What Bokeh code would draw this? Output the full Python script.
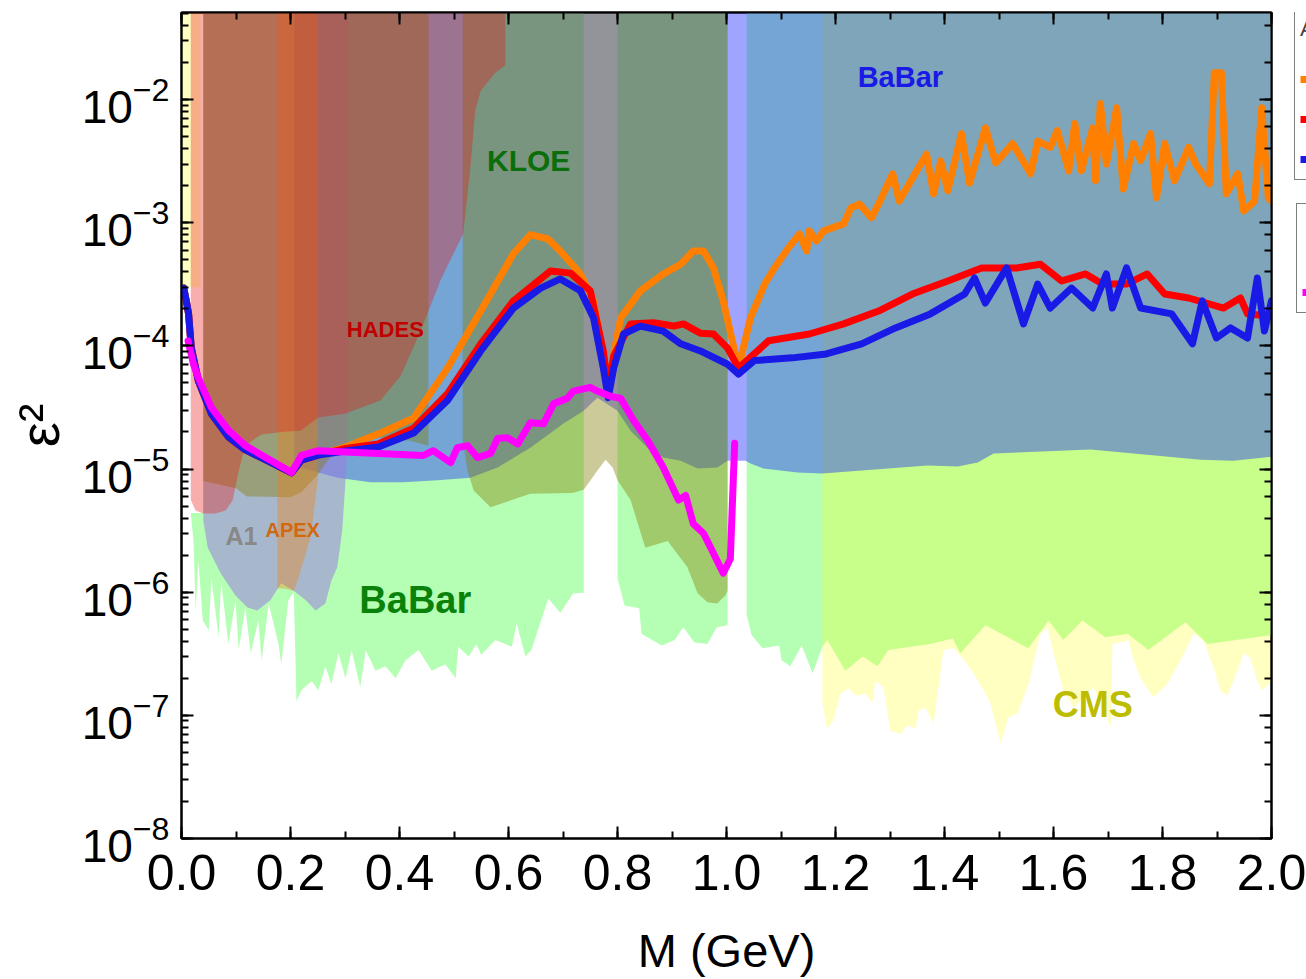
from bokeh.plotting import figure
from bokeh.layouts import row
from bokeh.models import (Range1d, LinearAxis, LogAxis, SingleIntervalTicker, LogTicker,
                          PrintfTickFormatter, Legend, LegendItem, CustomLabelingPolicy)
from bokeh.core.properties import value
from bokeh.embed import file_html
from bokeh.resources import INLINE

TOP = 0.06  # open upper side of exclusion regions (beyond the axis top)

# ---------------- exclusion regions (M in GeV, eps^2) ----------------
green1_x = [0.040, 0.040, 0.017, 0.022, 0.026, 0.031, 0.039, 0.050, 0.055, 0.068, 0.073, 0.086, 0.099, 0.105,
            0.117, 0.127, 0.141, 0.147, 0.160, 0.178, 0.183, 0.196, 0.206, 0.211, 0.220, 0.239, 0.251, 0.264,
            0.275, 0.288, 0.301, 0.312, 0.328, 0.338, 0.356, 0.374, 0.393, 0.411, 0.435, 0.459, 0.484, 0.503,
            0.508, 0.527, 0.541, 0.550, 0.576, 0.606, 0.615, 0.631, 0.642, 0.673, 0.695, 0.719, 0.738, 0.738]
green1_y = [TOP, 4.4e-6, 4.4e-6, 2.6e-6, 7.1e-7, 1.8e-6, 5.9e-7, 4.9e-7, 1.3e-6, 4.3e-7, 1.2e-6, 3.8e-7, 8.6e-7,
            3.4e-7, 7.5e-7, 3.2e-7, 5.9e-7, 2.8e-7, 8.1e-7, 3.8e-7, 2.6e-7, 8.6e-7, 1.0e-6, 1.3e-7, 1.6e-7,
            1.9e-7, 1.6e-7, 2.5e-7, 1.8e-7, 3.2e-7, 2.0e-7, 3.4e-7, 1.7e-7, 3.4e-7, 2.3e-7, 2.5e-7, 2.0e-7,
            2.8e-7, 3.4e-7, 2.3e-7, 2.6e-7, 2.0e-7, 3.6e-7, 3.0e-7, 3.8e-7, 3.1e-7, 4.1e-7, 3.6e-7, 5.6e-7,
            3.0e-7, 3.4e-7, 8.9e-7, 6.8e-7, 9.8e-7, 9.9e-7, TOP]
green2_x = [0.800, 0.813, 0.840, 0.844, 0.881, 0.905, 0.921, 0.941, 0.965, 0.982, 1.002]
green2_y = [1.3e-6, 7.8e-7, 7.4e-7, 4.6e-7, 3.7e-7, 4.1e-7, 5.2e-7, 3.9e-7, 3.8e-7, 5.2e-7, 5.4e-7]
green3_x = [1.037, 1.046, 1.066, 1.097, 1.101, 1.117, 1.138, 1.158, 1.176, 1.185, 1.218, 1.250, 1.277, 1.297,
            1.338, 1.374, 1.415, 1.429, 1.475, 1.554, 1.591, 1.618, 1.653, 1.695, 1.736, 1.774, 1.842, 1.883, 2.0]
green3_y = [6.5e-7, 4.5e-7, 3.5e-7, 3.7e-7, 2.8e-7, 2.5e-7, 3.7e-7, 2.2e-7, 3.6e-7, 4.1e-7, 2.3e-7, 3.0e-7,
            2.5e-7, 3.4e-7, 3.6e-7, 3.8e-7, 4.2e-7, 3.2e-7, 5.4e-7, 3.5e-7, 5.9e-7, 4.1e-7, 5.9e-7, 4.3e-7,
            4.6e-7, 3.4e-7, 5.7e-7, 3.8e-7, 4.5e-7]

cms_x = [1.176, 1.185, 1.196, 1.209, 1.224, 1.237, 1.255, 1.268, 1.273, 1.288, 1.301, 1.319, 1.332, 1.347,
         1.352, 1.365, 1.380, 1.398, 1.417, 1.442, 1.453, 1.472, 1.484, 1.503, 1.517, 1.534, 1.554, 1.576,
         1.589, 1.600, 1.618, 1.637, 1.673, 1.705, 1.708, 1.738, 1.747, 1.760, 1.783, 1.809, 1.833, 1.857,
         1.875, 1.894, 1.906, 1.919, 1.930, 1.949, 1.961, 1.974, 1.983, 2.0]
cms_y = [1.25e-7, 7.8e-8, 9.1e-8, 1.5e-7, 1.65e-7, 1.45e-7, 1.5e-7, 1.27e-7, 1.9e-7, 1.7e-7,
         7.5e-8, 7.1e-8, 8.3e-8, 7.8e-8, 1.09e-7, 1.16e-7, 8.6e-8, 3.4e-7, 3.5e-7, 2.6e-7,
         2.2e-7, 1.6e-7, 1.27e-7, 5.9e-8, 9.6e-8, 1.04e-7, 1.8e-7, 4.6e-7, 5.2e-7, 3.2e-7,
         1.6e-7, 1.16e-7, 1.7e-7, 8.0e-8, 3.8e-7, 4.05e-7, 2.8e-7, 2.0e-7, 1.4e-7, 1.8e-7,
         2.8e-7, 4.6e-7, 4.05e-7, 2.45e-7, 1.6e-7, 1.45e-7, 1.9e-7, 3.2e-7, 2.95e-7, 1.9e-7,
         1.6e-7, 1.9e-7]

babar_x = [0.207, 0.218, 0.286, 0.347, 0.407, 0.470, 0.530, 0.580, 0.640, 0.701, 0.738, 0.763, 0.800, 0.824,
           0.855, 0.884, 0.916, 0.947, 0.983, 1.002, 1.035, 1.044, 1.068, 1.130, 1.176, 1.369, 1.424, 1.461,
           1.490, 1.668, 1.747, 1.870, 1.930, 2.0]
babar_y = [1.03e-5, 1.03e-5, 8.5e-6, 7.8e-6, 7.8e-6, 8.1e-6, 8.5e-6, 1.03e-5, 1.49e-5, 2.34e-5, 2.98e-5, 3.8e-5,
           2.98e-5, 2.05e-5, 1.49e-5, 1.24e-5, 1.17e-5, 1.01e-5, 1.03e-5, 1.17e-5, 1.17e-5, 1.11e-5, 1.01e-5,
           9.4e-6, 9.2e-6, 1.07e-5, 1.05e-5, 1.13e-5, 1.34e-5, 1.44e-5, 1.34e-5, 1.19e-5, 1.17e-5, 1.26e-5]

kloe_x = [0.516, 0.525, 0.536, 0.567, 0.640, 0.717, 0.738, 0.763, 0.778, 0.791, 0.800, 0.824, 0.851, 0.892,
          0.928, 0.947, 0.965, 0.983, 0.998, 1.002]
kloe_y = [1.7e-5, 9.7e-6, 6.7e-6, 4.9e-6, 6.3e-6, 6.4e-6, 6.8e-6, 9.7e-6, 1.19e-5, 1.03e-5, 8.1e-6, 5.6e-6,
          2.3e-6, 2.6e-6, 1.6e-6, 9.8e-7, 8.3e-7, 8.1e-7, 9.4e-7, 1.03e-6]
kloe2_x = [0.040, 0.100, 0.120, 0.200, 0.220, 0.250, 0.270, 0.310, 0.365, 0.420, 0.453]
kloe2_y = [8.0e-6, 7.0e-6, 6.0e-6, 5.9e-6, 6.5e-6, 9.0e-6, 1.2e-5, 1.7e-5, 1.8e-5, 1.7e-5, 1.55e-5]

hades_x = [0.017, 0.017, 0.026, 0.040, 0.062, 0.081, 0.094, 0.105, 0.117, 0.145, 0.182, 0.218, 0.251, 0.301,
           0.365, 0.402, 0.439, 0.475, 0.517, 0.530, 0.539, 0.549, 0.576, 0.594, 0.594]
hades_y = [TOP, 5.6e-6, 4.6e-6, 4.35e-6, 4.35e-6, 4.6e-6, 5.6e-6, 9.7e-6, 1.55e-5, 1.9e-5, 2.0e-5, 2.05e-5,
           2.62e-5, 2.83e-5, 3.6e-5, 5.7e-5, 1.33e-4, 3.4e-4, 8.2e-4, 2.8e-3, 8.2e-3, 1.18e-2, 1.66e-2,
           1.89e-2, TOP]

a1_x = [0.040, 0.040, 0.305, 0.305, 0.301, 0.295, 0.286, 0.275, 0.264, 0.246, 0.228, 0.206, 0.183, 0.163,
        0.139, 0.121, 0.099, 0.072, 0.048]
a1_y = [3.8e-6, TOP, TOP, 1.7e-5, 8.1e-6, 3.2e-6, 1.6e-6, 1.24e-6, 8.1e-7, 7.1e-7, 8.6e-7, 1.03e-6, 1.18e-6,
        8.6e-7, 7.1e-7, 7.5e-7, 9.4e-7, 1.42e-6, 2.31e-6]

apex_x = [0.176, 0.176, 0.187, 0.206, 0.213, 0.237, 0.250, 0.250]
apex_y = [TOP, 1.07e-6, 1.07e-6, 1.03e-6, 1.24e-6, 2.8e-6, 8.1e-6, TOP]

dump_x = [0.0, 0.035, 0.035, 0.0]
dump_y = [3.0e-4, 3.0e-4, TOP, TOP]

# ---------------- limit curves ----------------
orange_x = [0.004, 0.009, 0.013, 0.018, 0.031, 0.055, 0.086, 0.117, 0.163, 0.202, 0.220, 0.251, 0.301, 0.365,
            0.426, 0.488, 0.549, 0.609, 0.640, 0.672, 0.695, 0.732, 0.756, 0.782, 0.806, 0.842, 0.884, 0.916,
            0.939, 0.958, 0.976, 0.994, 1.022, 1.044, 1.070, 1.088, 1.114, 1.134, 1.147, 1.152, 1.165, 1.178,
            1.215, 1.228, 1.244, 1.266, 1.279, 1.305, 1.317, 1.341, 1.367, 1.380, 1.393, 1.406, 1.431, 1.446,
            1.475, 1.494, 1.525, 1.558, 1.571, 1.594, 1.607, 1.628, 1.639, 1.651, 1.672, 1.677, 1.686, 1.697,
            1.716, 1.728, 1.747, 1.760, 1.778, 1.789, 1.804, 1.822, 1.848, 1.861, 1.886, 1.895, 1.908, 1.917,
            1.938, 1.949, 1.969, 1.982, 1.994, 2.0]
orange_y = [2.95e-4, 2.3e-4, 1.82e-4, 9.6e-5, 5.2e-5, 2.8e-5, 1.82e-5, 1.43e-5, 1.14e-5, 9.3e-6, 1.18e-5,
            1.3e-5, 1.51e-5, 1.96e-5, 2.6e-5, 6.6e-5, 1.92e-4, 5.6e-4, 8.0e-4, 7.4e-4, 5.9e-4, 3.84e-4, 2.32e-4,
            4.9e-5, 1.69e-4, 2.8e-4, 3.84e-4, 4.6e-4, 5.9e-4, 5.9e-4, 4.3e-4, 2.32e-4, 6.6e-5, 1.69e-4, 3.18e-4,
            4.3e-4, 6.3e-4, 8.1e-4, 5.9e-4, 8.6e-4, 7.1e-4, 8.6e-4, 9.8e-4, 1.32e-3, 1.42e-3, 1.1e-3, 1.42e-3,
            2.5e-3, 1.5e-3, 2.3e-3, 3.6e-3, 1.72e-3, 3.18e-3, 1.82e-3, 5.3e-3, 2.1e-3, 5.9e-3, 3.06e-3, 4.4e-3,
            2.5e-3, 4.6e-3, 4.1e-3, 5.6e-3, 2.64e-3, 6.4e-3, 2.64e-3, 5.9e-3, 2.2e-3, 9.3e-3, 3.0e-3, 8.6e-3,
            1.88e-3, 4.4e-3, 3.2e-3, 5.3e-3, 1.6e-3, 4.4e-3, 2.2e-3, 4.1e-3, 3.0e-3, 2.07e-3, 1.65e-2, 1.65e-2,
            1.72e-3, 2.5e-3, 1.25e-3, 1.5e-3, 8.6e-3, 1.6e-3, 1.5e-3]

red_x = [0.004, 0.009, 0.013, 0.018, 0.031, 0.055, 0.086, 0.117, 0.163, 0.202, 0.220, 0.251, 0.301, 0.361,
         0.426, 0.488, 0.549, 0.609, 0.677, 0.714, 0.750, 0.774, 0.783, 0.793, 0.824, 0.866, 0.903, 0.921,
         0.952, 0.976, 1.002, 1.022, 1.077, 1.152, 1.215, 1.279, 1.341, 1.406, 1.468, 1.532, 1.576, 1.615,
         1.659, 1.690, 1.734, 1.772, 1.804, 1.848, 1.912, 1.943, 1.956, 2.0]
red_y = [2.95e-4, 2.3e-4, 1.82e-4, 9.6e-5, 5.2e-5, 2.8e-5, 1.82e-5, 1.43e-5, 1.14e-5, 9.3e-6, 1.18e-5, 1.3e-5,
         1.47e-5, 1.6e-5, 2.15e-5, 4.1e-5, 1.04e-4, 2.32e-4, 4.06e-4, 3.9e-4, 2.8e-4, 9.1e-5, 4.4e-5, 8.3e-5,
         1.51e-4, 1.54e-4, 1.45e-4, 1.51e-4, 1.27e-4, 1.25e-4, 9.6e-5, 6.6e-5, 1.1e-4, 1.25e-4, 1.51e-4,
         1.92e-4, 2.64e-4, 3.37e-4, 4.3e-4, 4.3e-4, 4.6e-4, 3.37e-4, 3.84e-4, 3.18e-4, 3.18e-4, 3.84e-4,
         2.64e-4, 2.45e-4, 2.03e-4, 2.45e-4, 1.82e-4, 1.75e-4]

blue_x = [0.004, 0.009, 0.013, 0.018, 0.031, 0.055, 0.086, 0.117, 0.163, 0.202, 0.220, 0.251, 0.301, 0.361,
          0.426, 0.488, 0.549, 0.609, 0.659, 0.695, 0.732, 0.756, 0.774, 0.783, 0.793, 0.811, 0.842, 0.884,
          0.916, 0.952, 1.002, 1.022, 1.051, 1.121, 1.183, 1.248, 1.310, 1.374, 1.437, 1.455, 1.475, 1.514,
          1.545, 1.571, 1.594, 1.633, 1.672, 1.697, 1.708, 1.734, 1.760, 1.817, 1.855, 1.873, 1.899, 1.925,
          1.956, 1.974, 1.987, 2.0]
blue_y = [2.95e-4, 2.3e-4, 1.82e-4, 9.6e-5, 5.2e-5, 2.8e-5, 1.82e-5, 1.43e-5, 1.14e-5, 9.3e-6, 1.18e-5, 1.3e-5,
          1.4e-5, 1.51e-5, 1.96e-5, 3.6e-5, 9.1e-5, 2.03e-4, 2.95e-4, 3.5e-4, 2.8e-4, 1.69e-4, 6.6e-5, 3.8e-5,
          6.6e-5, 1.25e-4, 1.45e-4, 1.32e-4, 1.04e-4, 9.1e-5, 7.1e-5, 5.9e-5, 7.6e-5, 8.0e-5, 8.6e-5, 1.04e-4,
          1.4e-4, 1.82e-4, 2.64e-4, 3.56e-4, 2.23e-4, 4.3e-4, 1.51e-4, 3.18e-4, 2.03e-4, 2.95e-4, 2.03e-4,
          3.84e-4, 2.03e-4, 4.3e-4, 2.03e-4, 1.82e-4, 1.04e-4, 2.32e-4, 1.16e-4, 1.4e-4, 1.16e-4, 3.56e-4,
          1.32e-4, 2.32e-4]

magenta_x = [0.012, 0.022, 0.031, 0.055, 0.086, 0.117, 0.202, 0.220, 0.251, 0.361, 0.444, 0.462, 0.494, 0.506,
             0.525, 0.543, 0.567, 0.580, 0.598, 0.617, 0.640, 0.664, 0.683, 0.708, 0.719, 0.750, 0.763, 0.787,
             0.806, 0.829, 0.855, 0.884, 0.912, 0.925, 0.939, 0.958, 0.976, 0.994, 1.007, 1.015]
magenta_y = [1.1e-4, 7.1e-5, 5.5e-5, 3.15e-5, 2.07e-5, 1.55e-5, 9.4e-6, 1.29e-5, 1.41e-5, 1.34e-5, 1.29e-5,
             1.41e-5, 1.13e-5, 1.49e-5, 1.55e-5, 1.24e-5, 1.34e-5, 1.77e-5, 1.8e-5, 1.6e-5, 2.38e-5, 2.33e-5,
             3.4e-5, 3.75e-5, 4.3e-5, 4.6e-5, 4.3e-5, 3.9e-5, 3.75e-5, 2.5e-5, 1.72e-5, 1.03e-5, 5.6e-6, 6.1e-6,
             3.6e-6, 3.0e-6, 2.07e-6, 1.43e-6, 1.86e-6, 1.62e-5]

series_names = ["p+p 3.5 GeV", "p+Nb 3.5 GeV", "Ar+KCl 1.76A GeV", "Au+Au 1.23A GeV"]
series_colors = ["#ff8000", "#ff0000", "#1a1ae6", "#ff00ff"]

# region labels
label_text = ["KLOE", "HADES", "BaBar", "BaBar", "A1", "APEX", "CMS"]
label_x = [0.637, 0.374, 1.319, 0.429, 0.110, 0.204, 1.672]
label_y = [3.2e-3, 1.37e-4, 1.53e-2, 8.6e-7, 2.85e-6, 3.2e-6, 1.22e-7]
label_color = ["#0a6e0a", "#c00000", "#1a1ae6", "#0a820a", "#888888", "#d0680f", "#bcbc00"]
label_size = ["30px", "22px", "29px", "38px", "25px", "20px", "36px"]

FONT = "Liberation Sans"

p = figure(width=1306, height=979, y_axis_type="log",
           x_range=Range1d(0.0, 2.0), y_range=Range1d(1e-8, 5.1e-2),
           output_backend="svg", toolbar_location=None,
           min_border_left=181, min_border_right=35, min_border_top=12, min_border_bottom=141,
           background_fill_color="white", border_fill_color="white")
p.xgrid.visible = False
p.ygrid.visible = False
p.outline_line_color = "black"
p.outline_line_width = 2


def region(xs, ys, color, alpha):
    p.patch(xs, ys, fill_color=color, fill_alpha=alpha, line_color=None)


def open_region(xs, ys, color, alpha):
    region([xs[0]] + xs + [xs[-1]], [TOP] + ys + [TOP], color, alpha)


region(green1_x, green1_y, "#b5ffb5", 1.0)
open_region(green2_x, green2_y, "#b5ffb5", 1.0)
open_region(green3_x, green3_y, "#b5ffb5", 1.0)
open_region(cms_x, cms_y, "#ffff10", 0.26)
open_region(babar_x, babar_y, "#1a29ff", 0.42)
region(a1_x, a1_y, "#9d7edf", 0.55)
open_region(kloe_x, kloe_y, "#837a00", 0.40)
open_region(kloe2_x, kloe2_y, "#837a00", 0.40)
region(apex_x, apex_y, "#f08214", 0.38)
region(dump_x, dump_y, "#ffff10", 0.25)
region(hades_x, hades_y, "#e71610", 0.35)

LW = 7
curves = [(orange_x, orange_y), (red_x, red_y), (blue_x, blue_y), (magenta_x, magenta_y)]
for (cx, cy), col in zip(curves, series_colors):
    p.line(cx, cy, line_color=col, line_width=LW, line_join="round", line_cap="round")

for t, x, y, c, s in zip(label_text, label_x, label_y, label_color, label_size):
    p.text([x], [y], text=[t], text_color=c, text_font=value(FONT), text_font_style="bold",
           text_font_size=s, text_align="center", text_baseline="middle")

# axes
xt = SingleIntervalTicker(interval=0.2, num_minor_ticks=2)
p.xaxis.ticker = xt
p.xaxis.formatter = PrintfTickFormatter(format="%.1f")
p.xaxis.axis_label = "M (GeV)"
p.yaxis.axis_label = "ε²"


def style_ticks(ax):
    ax.major_tick_in = 12
    ax.major_tick_out = 0
    ax.minor_tick_in = 7
    ax.minor_tick_out = 0
    ax.axis_line_width = 2
    ax.major_tick_line_width = 2
    ax.minor_tick_line_width = 2


for ax in (p.xaxis[0], p.yaxis[0]):
    style_ticks(ax)
    ax.major_label_text_font = FONT
    ax.major_label_text_color = "black"
    ax.axis_label_text_font = FONT
    ax.axis_label_text_font_style = "normal"
    ax.axis_label_text_color = "black"
p.xaxis.major_label_text_font_size = "50px"
p.yaxis.major_label_text_font_size = "46px"
p.xaxis.axis_label_text_font_size = "47px"
p.yaxis.axis_label_text_font_size = "56px"
p.xaxis.major_label_standoff = 16
p.xaxis.axis_label_standoff = 31
p.yaxis.major_label_standoff = 12
p.yaxis.axis_label_standoff = 8

# mirror axes: ticks only (labels filtered out)
top_ax = LinearAxis(ticker=xt, formatter=PrintfTickFormatter(format="%.1f"),
                    major_label_policy=CustomLabelingPolicy(code="return []"),
                    major_label_standoff=0, major_label_text_font_size="1px")
right_ax = LogAxis(ticker=LogTicker(), major_label_policy=CustomLabelingPolicy(code="return []"),
                   major_label_standoff=0, major_label_text_font_size="1px")
for ax in (top_ax, right_ax):
    style_ticks(ax)
p.add_layout(top_ax, "above")
p.add_layout(right_ax, "right")

# ---- transparent legend strip laid over the right border (legend boxes run past the window edge)
lf = figure(width=30, height=979, x_range=Range1d(0, 1), y_range=Range1d(1, 2),
            output_backend="svg", toolbar_location=None, min_border=0,
            x_axis_location=None, y_axis_location=None, outline_line_color=None,
            background_fill_alpha=0, border_fill_alpha=0, margin=(0, 0, 0, -30))
lf.xgrid.visible = False
lf.ygrid.visible = False
keys = [lf.line(cx, cy, line_color=c, line_width=LW, line_cap="butt")
        for (cx, cy), c in zip(curves, series_colors)]

leg1 = Legend(items=[LegendItem(label=n, renderers=[k]) for n, k in zip(series_names[:3], keys[:3])],
              title="A' → e⁺e⁻", location=(18, 658))
leg2 = Legend(items=[LegendItem(label=series_names[3], renderers=[keys[3]])],
              title=" ", location=(20, 525))
for lg, ts in ((leg1, 22), (leg2, 42)):
    lg.border_line_color = "black"
    lg.border_line_width = 1
    lg.background_fill_color = "white"
    lg.background_fill_alpha = 1.0
    lg.padding = 5
    lg.margin = 0
    lg.spacing = 10
    lg.glyph_width = 20
    lg.glyph_height = 30
    lg.label_height = 30
    lg.label_text_font = FONT
    lg.label_text_font_size = "20px"
    lg.title_text_font = FONT
    lg.title_text_font_size = "22px"
    lg.title_text_font_style = "normal"
    lg.title_standoff = ts
    lf.add_layout(lg)

open("out.html", "w").write(file_html(row(p, lf), INLINE))
